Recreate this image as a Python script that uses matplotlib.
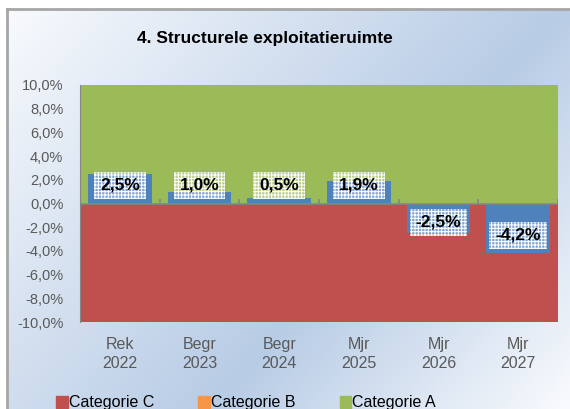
import numpy as np
import matplotlib
matplotlib.use('Agg')
import matplotlib.pyplot as plt
from matplotlib.patches import Rectangle, Patch

plt.rcParams['font.family'] = ['Liberation Sans', 'DejaVu Sans']
plt.rcParams['hatch.linewidth'] = 0.7

# data
categories = ['Rek\n2022', 'Begr\n2023', 'Begr\n2024', 'Mjr\n2025', 'Mjr\n2026', 'Mjr\n2027']
values = [2.5, 1.0, 0.5, 1.9, -2.5, -4.2]
cat_a = [10.0] * 6
cat_b = [0.0] * 6
cat_c = [-10.0] * 6
yticks = [-10, -8, -6, -4, -2, 0, 2, 4, 6, 8, 10]
title = '4. Structurele exploitatieruimte'

W, H = 570, 409
fig = plt.figure(figsize=(W / 100, H / 100), dpi=100)

# gradient background
bg = fig.add_axes([0, 0, 1, 1], zorder=-10)
xx, yy = np.meshgrid(np.arange(W), np.arange(H))
t = xx + 0.88 * yy
f = np.where(t < 570, t / 570, np.clip((930 - t) / 360, 0, 1))
light = np.array([0.98, 0.985, 0.995])
blue = np.array([0.72, 0.80, 0.90])
img = light[None, None, :] * (1 - f[..., None]) + blue[None, None, :] * f[..., None]
bg.imshow(img, extent=[0, W, H, 0], aspect='auto')
# white margin outside chart border
bg.add_patch(Rectangle((0, 0), W, 9, facecolor='white', edgecolor='none'))
bg.add_patch(Rectangle((0, 0), 7, H, facecolor='white', edgecolor='none'))
bg.plot([7, 7], [H, 9], color='#a6a6a6', lw=2)
bg.plot([7, W], [9, 9], color='#a6a6a6', lw=2)
bg.set_xlim(0, W)
bg.set_ylim(H, 0)
bg.axis('off')

ax = fig.add_axes([80 / W, 1 - 322 / H, (558 - 80) / W, (322 - 85) / H])
ax.patch.set_alpha(0)
x = np.arange(len(categories))

ax.bar(x, cat_c, width=1.0, color='#c0504d', zorder=1)
ax.bar(x, cat_b, width=1.0, color='#f79646', zorder=1)
ax.bar(x, cat_a, width=1.0, color='#9bbb59', zorder=1)
ax.bar(x, values, width=0.8, color='#4f81bd', zorder=2)

# zero line with small ticks at category boundaries
ax.axhline(0, color='#868686', lw=1.2, zorder=3)
ax.vlines(np.arange(len(categories) + 1) - 0.5, 0, 0.4, color='#868686', lw=1.2, zorder=3)

for xi, v in zip(x, values):
    ypos = 1.55 if v >= 0 else v * 0.64
    ax.text(xi, ypos, f'{v:.1f}%'.replace('.', ','), ha='center', va='center',
            fontsize=12.5, fontweight='bold', color='black', zorder=5,
            bbox=dict(boxstyle='square,pad=0.35', facecolor=(1, 1, 1, 0.3),
                      edgecolor='white', hatch='+++++', linewidth=0))

ax.set_xlim(-0.5, len(categories) - 0.5)
ax.set_ylim(-10, 10)
ax.set_yticks(yticks)
ax.set_yticklabels([f'{v:.1f}%'.replace('.', ',') for v in yticks],
                   fontsize=10.5, color='#595959')
ax.tick_params(axis='y', length=0, pad=12)
ax.set_xticks(x)
ax.set_xticklabels(categories, fontsize=11.5, color='#595959', linespacing=1.3)
ax.tick_params(axis='x', length=0, pad=11)
for s in ['top', 'right', 'bottom']:
    ax.spines[s].set_visible(False)
ax.spines['left'].set_color('#868686')
ax.spines['left'].set_zorder(3)

fig.text(265 / W, 1 - 38 / H, title, ha='center', va='center',
         fontsize=12.5, fontweight='bold', color='black')

handles = [Patch(color='#c0504d', label='Categorie C'),
           Patch(color='#f79646', label='Categorie B'),
           Patch(color='#9bbb59', label='Categorie A')]
fig.legend(handles=handles, loc='center left', bbox_to_anchor=(42 / W, 1 - 403 / H),
           ncol=3, frameon=False, fontsize=11.5, handlelength=0.7, handleheight=0.7,
           handletextpad=0.1, columnspacing=2.75)

fig.savefig('out.png', dpi=100)
